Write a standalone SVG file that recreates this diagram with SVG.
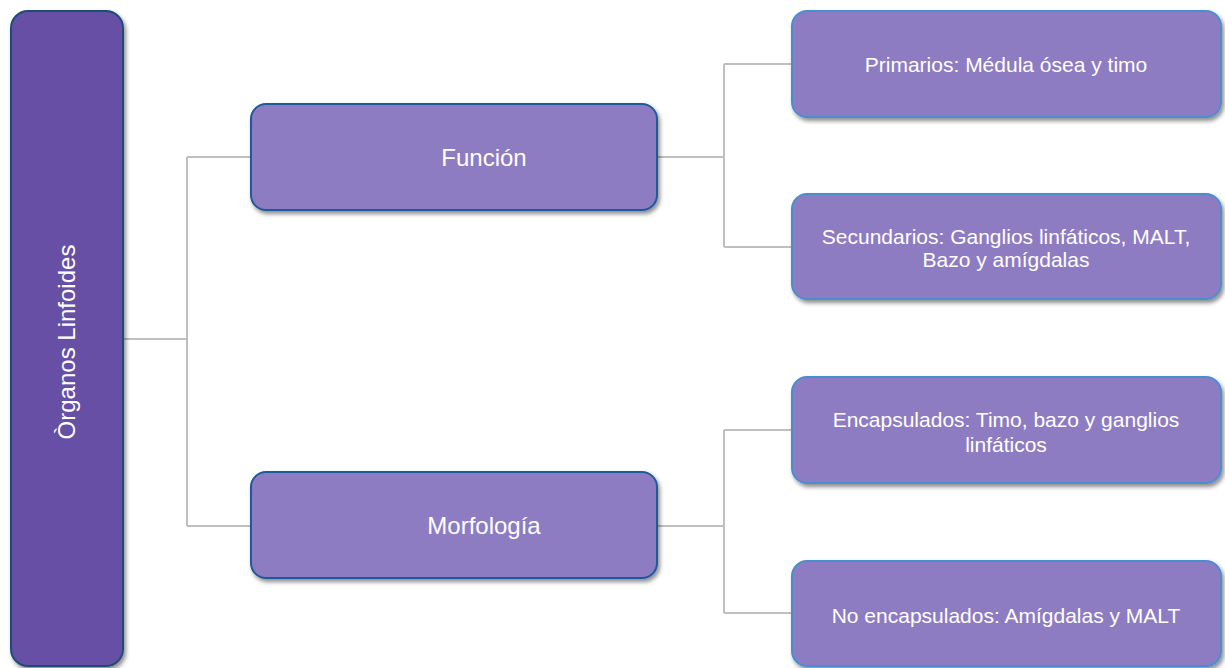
<svg xmlns="http://www.w3.org/2000/svg" width="1225" height="668" viewBox="0 0 1225 668">
  <defs>
    <filter id="sh" x="-10%" y="-10%" width="130%" height="130%">
      <feDropShadow dx="2" dy="3" stdDeviation="2" flood-color="#000" flood-opacity="0.45"/>
    </filter>
    <style>
      .root { fill: #6650a5; stroke: #1f4e79; stroke-width: 2; filter: url(#sh); }
      .mid { fill: #8e7cc3; stroke: #1f5a9c; stroke-width: 2; filter: url(#sh); }
      .leaf { fill: #8e7cc3; stroke: #4a8fd0; stroke-width: 2; filter: url(#sh); }
      .t { fill: #ffffff; font-family: "Liberation Sans", Arial, sans-serif; text-anchor: middle; }
      .big { font-size: 24px; }
      .small { font-size: 21px; }
      .conn { fill: none; stroke: #bfbfbf; stroke-width: 2; }
    </style>
  </defs>
  <rect width="1225" height="668" fill="#ffffff"/>
  <g id="connectors">
    <path class="conn" d="M123 339 H187 M187 157 V526 M187 157 H251 M187 526 H251"/>
    <path class="conn" d="M657 157 H724 M724 64 V247 M724 64 H792 M724 247 H792"/>
    <path class="conn" d="M657 526 H724 M724 430 V613 M724 430 H792 M724 613 H792"/>
  </g>
  <g id="root">
    <rect class="root" x="11" y="11" width="112" height="655" rx="17"/>
    <text class="t big" transform="translate(75,342) rotate(-90)">Òrganos Linfoides</text>
  </g>
  <g id="funcion">
    <rect class="mid" x="251" y="104" width="406" height="106" rx="15"/>
    <text class="t big" x="484" y="166">Función</text>
  </g>
  <g id="morfologia">
    <rect class="mid" x="251" y="472" width="406" height="106" rx="15"/>
    <text class="t big" x="484" y="534">Morfología</text>
  </g>
  <g id="primarios">
    <rect class="leaf" x="792" y="11" width="429" height="106" rx="15"/>
    <text class="t small" x="1006" y="72">Primarios: Médula ósea y timo</text>
  </g>
  <g id="secundarios">
    <rect class="leaf" x="792" y="194" width="429" height="105" rx="15"/>
    <text class="t small" x="1006" y="244">Secundarios: Ganglios linfáticos, MALT,</text>
    <text class="t small" x="1006" y="267">Bazo y amígdalas</text>
  </g>
  <g id="encapsulados">
    <rect class="leaf" x="792" y="377" width="429" height="106" rx="15"/>
    <text class="t small" x="1006" y="427">Encapsulados: Timo, bazo y ganglios</text>
    <text class="t small" x="1006" y="452">linfáticos</text>
  </g>
  <g id="noencapsulados">
    <rect class="leaf" x="792" y="561" width="429" height="105" rx="15"/>
    <text class="t small" x="1006" y="623">No encapsulados: Amígdalas y MALT</text>
  </g>
</svg>
